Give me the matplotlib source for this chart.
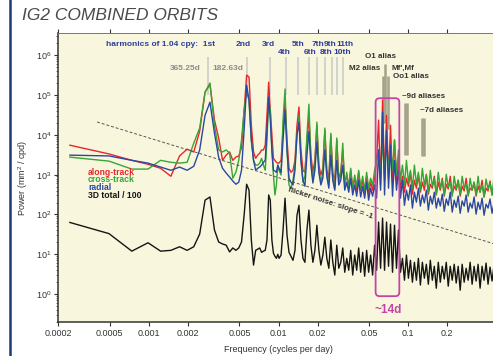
import matplotlib
matplotlib.use("Agg")
import matplotlib.pyplot as plt
from matplotlib.lines import Line2D
from matplotlib.patches import FancyBboxPatch
from matplotlib.transforms import IdentityTransform
from matplotlib.ticker import LogLocator, NullLocator, FixedLocator, FixedFormatter
import numpy as np

plt.rcParams['font.family'] = ['Liberation Sans', 'DejaVu Sans']
plt.rcParams['mathtext.fontset'] = 'custom'
plt.rcParams['mathtext.rm'] = 'Liberation Sans'
plt.rcParams['mathtext.it'] = 'Liberation Sans:italic'
plt.rcParams['mathtext.bf'] = 'Liberation Sans:bold'

# frequency grids (cycles per day)
df = 0.000247
freq_lo = df * np.arange(1, 41)
freq_hi = np.geomspace(0.0101, 0.675, 120)

# log10 power (mm^2/cpd)
red_lo = [3.74,3.52,3.36,3.26,3.16,2.96,3.47,3.64,3.57,4.09,5.07,5.27,4.37,3.92,3.36,3.49,3.57,3.36,3.44,3.47,
          3.67,4.62,5.50,5.45,4.24,3.57,3.41,3.49,3.54,3.62,3.62,3.74,4.49,5.32,4.62,3.99,3.41,3.36,3.31,3.29]
green_lo = [3.44,3.34,3.14,3.14,3.36,3.31,3.29,3.31,3.79,4.17,5.07,5.30,4.24,3.62,3.57,3.62,3.54,2.91,3.06,3.36,
            3.87,4.62,5.07,4.87,3.87,3.36,3.24,3.24,3.29,3.41,3.24,3.11,3.87,4.87,4.62,3.62,2.99,2.49,2.74,3.24]
blue_lo = [3.49,3.47,3.36,3.29,3.19,3.11,3.19,3.11,3.21,3.62,4.49,4.82,4.04,3.44,3.16,3.04,2.94,2.84,2.76,2.81,
           3.11,4.12,5.25,4.87,3.87,3.36,3.11,3.16,3.19,3.24,3.31,3.36,4.12,4.95,4.37,3.62,3.11,3.09,3.06,3.24]
total_lo = [1.80,1.52,1.08,1.29,1.08,1.10,1.19,1.10,1.19,1.51,2.36,2.44,1.61,1.31,1.26,1.23,1.06,1.16,1.10,1.16,
            1.31,1.98,2.76,2.61,1.36,0.73,1.10,1.13,1.16,1.05,1.08,1.10,1.36,2.49,2.36,1.36,1.03,0.95,0.90,1.00]

red_hi = [3.29,3.36,4.12,4.87,3.87,3.16,3.06,3.11,3.36,4.24,
          4.70,3.62,3.11,3.06,3.87,4.44,3.49,3.06,3.36,4.24,
          3.24,2.99,3.16,4.12,3.11,2.91,3.99,3.06,2.81,3.87,
          2.91,3.06,3.62,2.76,2.99,2.71,3.11,2.66,2.91,2.61,
          3.06,2.61,2.86,2.56,2.96,2.51,2.81,2.61,2.91,3.36,
          4.37,2.74,4.87,2.86,4.49,2.91,4.24,2.81,3.87,2.86,
          3.36,2.66,2.96,2.56,2.91,2.71,3.06,2.51,2.86,2.66,
          2.99,2.56,2.81,2.61,3.01,2.51,2.76,2.66,2.96,2.49,
          2.81,2.61,2.91,2.46,2.76,2.64,2.96,2.51,2.71,2.61,
          2.86,2.46,2.71,2.59,2.91,2.49,2.66,2.61,2.81,2.46,
          2.71,2.56,2.86,2.44,2.66,2.59,2.84,2.49,2.71,2.54,
          2.81,2.46,2.66,2.59,2.86,2.49,2.69,2.56,2.79,2.44]
green_hi = [3.11,2.99,4.37,5.15,3.62,2.74,2.66,2.86,3.24,3.99,
            4.49,3.36,2.81,2.96,3.99,4.77,3.36,2.86,3.24,4.32,
            3.11,2.81,3.06,4.17,2.99,2.74,4.04,2.91,2.66,3.92,
            2.81,2.96,3.79,2.71,3.06,2.66,3.16,2.61,2.99,2.71,
            3.11,2.66,2.96,2.61,3.06,2.66,2.91,2.74,3.11,3.36,
            3.62,2.91,3.87,2.99,3.99,3.06,3.74,3.11,3.87,2.99,
            3.62,2.86,3.24,2.74,3.36,2.81,3.11,2.66,3.24,2.76,
            3.06,2.61,3.16,2.74,2.99,2.56,3.11,2.71,2.91,2.51,
            3.06,2.66,2.86,2.49,3.01,2.69,2.81,2.46,2.96,2.64,
            2.86,2.51,2.96,2.66,2.76,2.46,2.91,2.61,2.81,2.49,
            2.96,2.56,2.74,2.44,2.89,2.64,2.79,2.49,2.94,2.59,
            2.76,2.46,2.86,2.61,2.81,2.44,2.91,2.56,2.74,2.51]
blue_hi = [3.16,3.06,3.87,4.62,3.62,2.91,2.81,2.74,3.11,3.99,
           4.32,3.36,2.86,2.71,3.49,4.09,3.24,2.79,3.11,3.82,
           3.06,2.74,2.91,3.62,2.96,2.66,3.49,2.86,2.61,3.36,
           2.74,2.86,3.24,2.61,2.81,2.56,2.91,2.49,2.74,2.46,
           2.86,2.44,2.71,2.41,2.81,2.36,2.66,2.46,2.74,2.41,
           3.62,2.61,4.57,2.49,4.12,2.66,3.74,2.46,3.36,2.61,
           3.11,2.41,2.86,2.23,2.61,2.36,2.74,2.16,2.56,2.31,
           2.66,2.21,2.49,2.29,2.61,2.11,2.46,2.26,2.56,2.16,
           2.41,2.21,2.51,2.08,2.39,2.23,2.56,2.06,2.36,2.18,
           2.46,2.03,2.34,2.21,2.49,2.06,2.29,2.16,2.44,2.01,
           2.31,2.13,2.41,1.98,2.26,2.16,2.39,2.03,2.29,2.11,
           2.36,1.96,2.23,2.13,2.34,2.01,2.26,2.08,2.31,1.98]
total_hi = [0.90,0.98,1.61,2.41,1.48,1.05,0.95,0.85,1.10,1.98,
            2.23,1.36,0.90,0.80,1.61,2.11,1.23,0.80,1.10,1.73,
            1.10,0.73,0.98,1.43,0.90,0.65,1.36,0.80,0.48,1.23,
            0.65,0.80,1.16,0.55,0.90,0.60,1.10,0.48,0.98,0.60,
            1.16,0.55,1.05,0.45,1.10,0.55,0.98,0.48,1.23,0.60,
            1.81,0.65,1.91,0.60,1.81,0.70,1.76,0.55,1.73,0.65,
            1.61,0.55,0.90,0.35,0.98,0.40,0.85,0.30,0.80,0.35,
            0.90,0.23,0.80,0.40,0.75,0.25,0.85,0.35,0.70,0.15,
            0.80,0.30,0.70,0.38,0.80,0.20,0.70,0.35,0.75,0.28,
            0.70,0.10,0.75,0.30,0.65,0.35,0.80,0.25,0.70,0.33,
            0.75,0.15,0.70,0.35,0.78,0.25,0.68,0.33,0.73,0.20,
            0.78,0.35,0.65,0.23,0.80,0.30,0.70,0.25,0.75,0.33]

# harmonics of 1.04 cpy
harm_cpy = 1.04
harm_n = np.arange(1, 12)
harm_names = ["1st", "2nd", "3rd", "4th", "5th", "6th", "7th", "8th", "9th", "10th", "11th"]

# tidal alias bars (cpd) and their extent (power)
alias_f = [0.0633, 0.0661, 0.0697, 0.0944, 0.0982, 0.1276, 0.1333]
alias_top = [3.0e5, 6.0e5, 3.0e5, 6.2e4, 6.2e4, 2.7e4, 2.7e4]
alias_bot = [2.0e4, 2.0e4, 1.4e4, 3.1e3, 3.1e3, 3.0e3, 3.0e3]

# flicker noise reference line
flicker_f = [0.0004, 0.5]
flicker_p = [2.1e4, 16.8]

xticks = [0.0002, 0.0005, 0.001, 0.002, 0.005, 0.01, 0.02, 0.05, 0.1, 0.2, 0.5]

W, H = 493, 356
fig = plt.figure(figsize=(W / 100, H / 100), dpi=100)
ax = fig.add_axes([58 / W, 34 / H, 441 / W, 289 / H])
ax.set_facecolor('#f8f7de')

freq = np.concatenate([freq_lo, freq_hi])
series = [
    (red_lo + red_hi, '#e8262a'),
    (green_lo + green_hi, '#36a535'),
    (blue_lo + blue_hi, '#2c47a3'),
    (total_lo + total_hi, '#151515'),
]
for vals, col in series:
    ax.plot(freq, 10 ** np.array(vals), color=col, lw=1.0, zorder=3)

ax.plot(flicker_f, flicker_p, color='#555555', lw=0.7, ls=(0, (3, 2)), zorder=4)

hf = harm_n * harm_cpy / 365.25
ax.vlines(hf, 1.0e5, 8.9e5, color='#c9c9c9', lw=1.1, zorder=2)
ax.vlines(alias_f, alias_bot, alias_top, color='#a3a388', lw=1.8, zorder=2)

ax.set_xscale('log')
ax.set_yscale('log')
ax.set_xlim(0.0002, 0.5)
ax.set_ylim(0.2, 3.6e6)

ax.xaxis.set_major_locator(FixedLocator(xticks))
ax.xaxis.set_major_formatter(FixedFormatter([str(t) for t in xticks]))
ax.xaxis.set_minor_locator(NullLocator())
ax.yaxis.set_major_locator(FixedLocator([10.0 ** k for k in range(0, 7)]))
ax.yaxis.set_major_formatter(FixedFormatter(['$10^{%d}$' % k for k in range(0, 7)]))
ax.yaxis.set_minor_locator(LogLocator(base=10, subs=np.arange(2, 10)))
ax.tick_params(axis='both', which='major', direction='out', length=3, width=0.8,
               labelsize=6.5, colors='#333333', pad=2)
ax.tick_params(axis='x', top=True)
ax.tick_params(axis='y', which='minor', direction='out', length=1.5, width=0.5, colors='#333333')
for s in ['left', 'bottom']:
    ax.spines[s].set_color('#333333')
    ax.spines[s].set_linewidth(1.1)
ax.spines['top'].set_color('#777777')
ax.spines['top'].set_linewidth(0.7)

ax.set_xlabel('Frequency (cycles per day)', fontsize=6.5, color='#333333', labelpad=5)
ax.set_ylabel('Power (mm$^2$ / cpd)', fontsize=6.5, color='#333333', labelpad=4)

# magenta box around the ~14d band
box_f = [0.056, 0.0853]
box_p = [0.89, 8.3e4]
(x0, y0), (x1, y1) = ax.transData.transform([(box_f[0], box_p[0]), (box_f[1], box_p[1])])
ax.add_patch(FancyBboxPatch((x0, y0), x1 - x0, y1 - y0, boxstyle='round,pad=0,rounding_size=4',
                            transform=IdentityTransform(), fill=False, ec='#c443a4', lw=1.3, zorder=5,
                            clip_on=False))


def pt(x, y):
    return x / W, 1 - y / H


def label(x, y, s, **kw):
    fig.text(*pt(x, y), s, transform=fig.transFigure, **kw)


label(22, 15, 'IG2 COMBINED ORBITS', fontsize=12.5, style='italic', color='#4a4a4a', va='center')
fig.add_artist(Line2D([10 / W, 10 / W], [0, 1], transform=fig.transFigure, color='#1d3b73', lw=1.8))

hb = dict(fontsize=6, fontweight='bold', color='#2e3d99', va='center', ha='center')
label(215, 45, 'harmonics of 1.04 cpy:  1st', **dict(hb, ha='right'))
upper = {1: 243, 2: 268, 4: 298.5, 6: 317.5, 8: 330.5, 10: 345}
lower = {3: 284, 5: 310, 7: 326, 9: 342}
for i, xpos in upper.items():
    label(xpos, 45, harm_names[i], **hb)
for i, xpos in lower.items():
    label(xpos, 52, harm_names[i], **hb)

gb = dict(fontsize=6, fontweight='bold', color='#8c8c8c', va='center', ha='right')
label(201, 68, '365.25d', **gb)
label(243, 68, '182.63d', **gb)

ab = dict(fontsize=5.8, fontweight='bold', color='#333333', va='center', ha='left')
label(365, 57, 'O1 alias', **ab)
label(349, 68, 'M2 alias', **ab)
label(391, 68, "Mf',Mf", **ab)
label(393, 76, 'Oo1 alias', **ab)
label(402, 97, '~9d aliases', **ab)
label(420, 110, '~7d aliases', **ab)

label(388, 310, '~14d', fontsize=8.5, fontweight='bold', color='#c443a4', ha='center', va='center')
label(330, 203, 'flicker noise: slope = -1', fontsize=5.8, fontweight='bold', color='#333333',
      ha='center', va='center', rotation=-18)

lb = dict(fontsize=6.2, fontweight='bold', va='center', ha='left')
label(88, 172, 'along-track', color='#e8262a', **lb)
label(88, 180, 'cross-track', color='#36a535', **lb)
label(88, 188, 'radial', color='#2c47a3', **lb)
label(88, 196, '3D total / 100', color='#151515', **lb)

fig.savefig('out.png', dpi=100)
